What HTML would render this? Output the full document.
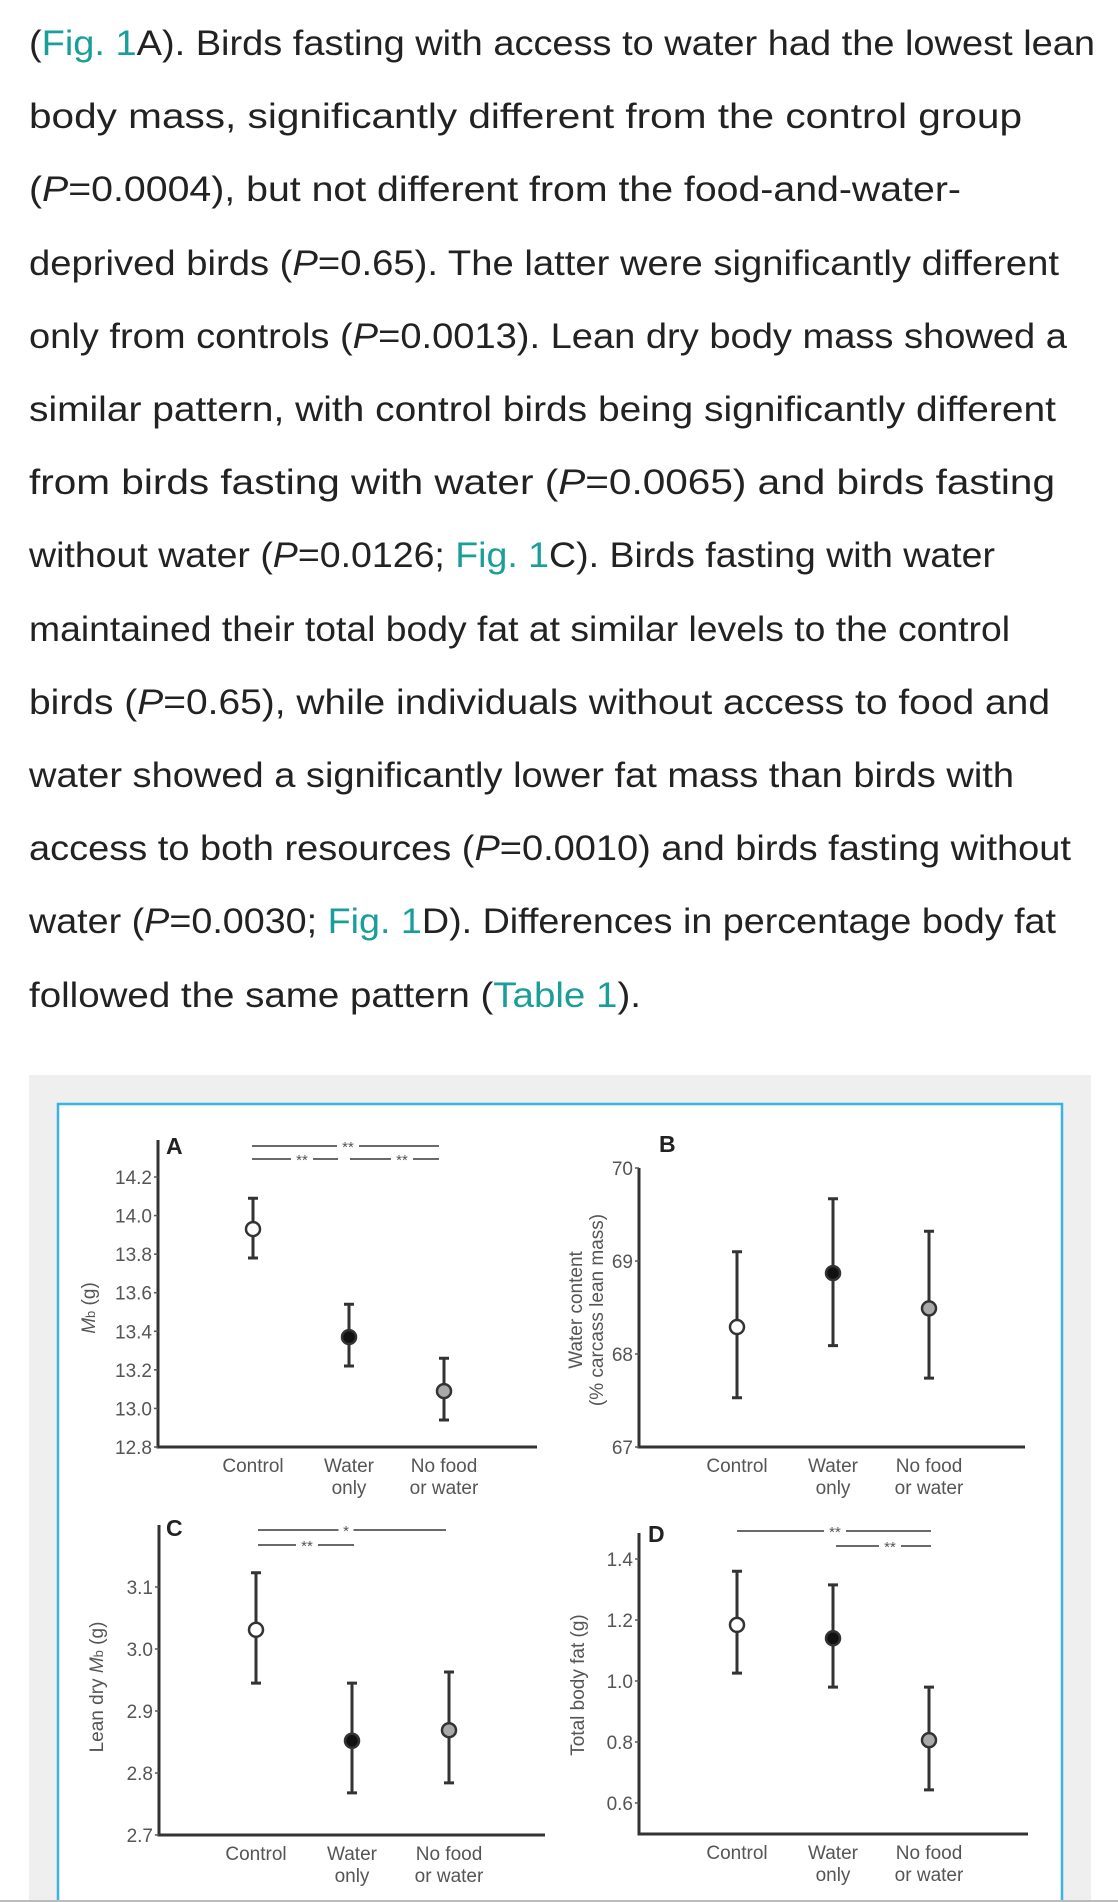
<!DOCTYPE html>
<html><head><meta charset="utf-8">
<style>
html,body{margin:0;padding:0;background:#fff;}
body{width:1118px;height:1902px;overflow:hidden;position:relative;}
svg{position:absolute;left:0;top:0;}
.t{font-family:"Liberation Sans",sans-serif;font-size:35px;fill:#222;}
.lk{fill:#1a9e9a;}
.ax{font-family:"Liberation Sans",sans-serif;font-size:19px;fill:#555;}
.pl{font-family:"Liberation Sans",sans-serif;font-size:23px;font-weight:bold;fill:#222;}
</style></head>
<body>
<svg id="page" width="1118" height="1902" viewBox="0 0 1118 1902">
<g>
<text class="t" x="29" y="55" textLength="1066" lengthAdjust="spacingAndGlyphs">(<tspan class="lk">Fig. 1</tspan>A). Birds fasting with access to water had the lowest lean</text>
<text class="t" x="29" y="128" textLength="993" lengthAdjust="spacingAndGlyphs">body mass, significantly different from the control group</text>
<text class="t" x="29" y="201" textLength="932" lengthAdjust="spacingAndGlyphs">(<tspan font-style="italic">P</tspan>=0.0004), but not different from the food-and-water-</text>
<text class="t" x="29" y="275" textLength="1030" lengthAdjust="spacingAndGlyphs">deprived birds (<tspan font-style="italic">P</tspan>=0.65). The latter were significantly different</text>
<text class="t" x="29" y="348" textLength="1038" lengthAdjust="spacingAndGlyphs">only from controls (<tspan font-style="italic">P</tspan>=0.0013). Lean dry body mass showed a</text>
<text class="t" x="29" y="421" textLength="1027" lengthAdjust="spacingAndGlyphs">similar pattern, with control birds being significantly different</text>
<text class="t" x="29" y="494" textLength="1026" lengthAdjust="spacingAndGlyphs">from birds fasting with water (<tspan font-style="italic">P</tspan>=0.0065) and birds fasting</text>
<text class="t" x="29" y="567" textLength="966" lengthAdjust="spacingAndGlyphs">without water (<tspan font-style="italic">P</tspan>=0.0126; <tspan class="lk">Fig. 1</tspan>C). Birds fasting with water</text>
<text class="t" x="29" y="641" textLength="981" lengthAdjust="spacingAndGlyphs">maintained their total body fat at similar levels to the control</text>
<text class="t" x="29" y="714" textLength="1021" lengthAdjust="spacingAndGlyphs">birds (<tspan font-style="italic">P</tspan>=0.65), while individuals without access to food and</text>
<text class="t" x="29" y="787" textLength="985" lengthAdjust="spacingAndGlyphs">water showed a significantly lower fat mass than birds with</text>
<text class="t" x="29" y="860" textLength="1042" lengthAdjust="spacingAndGlyphs">access to both resources (<tspan font-style="italic">P</tspan>=0.0010) and birds fasting without</text>
<text class="t" x="29" y="933" textLength="1027" lengthAdjust="spacingAndGlyphs">water (<tspan font-style="italic">P</tspan>=0.0030; <tspan class="lk">Fig. 1</tspan>D). Differences in percentage body fat</text>
<text class="t" x="29" y="1007" textLength="612" lengthAdjust="spacingAndGlyphs">followed the same pattern (<tspan class="lk">Table 1</tspan>).</text>
</g>
<rect x="29" y="1075" width="1062" height="840" fill="#efefef"/>
<rect x="58" y="1104" width="1004" height="810" fill="#fff" stroke="#3ab4de" stroke-width="2.5"/>
<line x1="0" y1="1901" x2="1118" y2="1901" stroke="#bbb" stroke-width="2"/>
<g id="charts"></g>
</svg>
<script>
// Panel A: body mass Mb (g)
const catsA = ["Control", "Water only", "No food or water"];
const meanA = [13.93, 13.37, 13.09];
const hiA = [14.09, 13.54, 13.26];
const loA = [13.78, 13.22, 12.94];
const ticksA = [12.8, 13.0, 13.2, 13.4, 13.6, 13.8, 14.0, 14.2];
const tickLabelsA = ["12.8", "13.0", "13.2", "13.4", "13.6", "13.8", "14.0", "14.2"];
// Panel B: water content
const meanB = [68.29, 68.87, 68.49];
const hiB = [69.10, 69.67, 69.32];
const loB = [67.53, 68.09, 67.74];
const ticksB = [67, 68, 69, 70];
const tickLabelsB = ["67", "68", "69", "70"];
// Panel C: lean dry Mb
const meanC = [3.031, 2.852, 2.869];
const hiC = [3.123, 2.945, 2.963];
const loC = [2.945, 2.768, 2.784];
const ticksC = [2.7, 2.8, 2.9, 3.0, 3.1];
const tickLabelsC = ["2.7", "2.8", "2.9", "3.0", "3.1"];
// Panel D: total body fat
const meanD = [1.184, 1.14, 0.806];
const hiD = [1.36, 1.315, 0.98];
const loD = [1.026, 0.98, 0.643];
const ticksD = [0.6, 0.8, 1.0, 1.2, 1.4];
const tickLabelsD = ["0.6", "0.8", "1.0", "1.2", "1.4"];

const NS = "http://www.w3.org/2000/svg";
const root = document.getElementById("charts");
const fills = ["#ffffff", "#111111", "#a9a9a9"];
const catLines = [["Control"], ["Water", "only"], ["No food", "or water"]];

function mk(tag, attrs, parent) {
  const e = document.createElementNS(NS, tag);
  for (const k in attrs) e.setAttribute(k, attrs[k]);
  parent.appendChild(e);
  return e;
}

function panel(cfg) {
  const g = mk("g", {}, root);
  
  
  const y = v => cfg.p0 + (v - cfg.v0) * (cfg.p1 - cfg.p0) / (cfg.v1 - cfg.v0);
  const x = i => cfg.cx[i];
  const axis = mk("path", {d: `M${cfg.ax} ${cfg.top} V${cfg.bottom} H${cfg.right}`, stroke: "#333", "stroke-width": 3, fill: "none"}, g);
  
  
  cfg.ticks.forEach((t, i) => {
    const ty = y(t);
    const tk = mk("line", {x1: cfg.ax - 4, x2: cfg.ax, y1: ty, y2: ty, stroke: "#555", "stroke-width": 1.5}, g);
    
    
    const lb = mk("text", {x: cfg.ax - 6, y: ty + 7, "text-anchor": "end", class: "ax"}, g);
    lb.textContent = cfg.labels[i];
    
    
  });
  catLines.forEach((lines, i) => {
    const tl = mk("text", {x: x(i), y: cfg.bottom + 25, "text-anchor": "middle", class: "ax"}, g);
    
    
    lines.forEach((s, j) => {
      const sp = mk("tspan", {x: x(i), dy: j === 0 ? 0 : 22}, tl);
      sp.textContent = s;
    });
  });
  const ttl = mk("text", {transform: `translate(${cfg.tx},${cfg.ty}) rotate(-90)`, "text-anchor": "middle", class: "ax"}, g);
  
  
  cfg.title.forEach((s, j) => {
    const sp = mk("tspan", {x: 0, dy: j === 0 ? (cfg.title.length > 1 ? -4 : 6) : 21}, ttl);
    sp.innerHTML = s;
  });
  const pl = mk("text", {x: cfg.lx, y: cfg.ly + 9, class: "pl"}, g);
  pl.textContent = cfg.letter;
  
  
  cfg.mean.forEach((m, i) => {
    const eb = mk("path", {d: `M${x(i)} ${y(cfg.lo[i])} V${y(cfg.hi[i])} M${x(i)-5} ${y(cfg.hi[i])} H${x(i)+5} M${x(i)-5} ${y(cfg.lo[i])} H${x(i)+5}`, stroke: "#333", "stroke-width": 3, fill: "none"}, g);
    
    
    const c = mk("circle", {cx: x(i), cy: y(m), r: 7, fill: fills[i], stroke: "#333", "stroke-width": 2.5}, g);
    
    
  });
  cfg.sig.forEach(s => {
    const w = s.star.length * 7 + 8;
    const ln = mk("path", {d: `M${s.x1} ${s.y} H${s.sx - w/2} M${s.sx + w/2} ${s.y} H${s.x2}`, stroke: "#555", "stroke-width": 1.8}, g);
    
    
    const st = mk("text", {x: s.sx, y: s.y + 6, "text-anchor": "middle", class: "ax", style: "font-size:15px"}, g);
    st.textContent = s.star;
    
    
  });
}

panel({name: "panel-a-body-mass", letter: "A", lx: 166, ly: 1145, ax: 158, top: 1140, bottom: 1447, right: 537,
  v0: 12.8, p0: 1447, v1: 14.2, p1: 1177, cx: [253, 349, 444], ticks: ticksA, labels: tickLabelsA,
  mean: meanA, hi: hiA, lo: loA, tx: 89, ty: 1308, title: ["<tspan font-style='italic'>M</tspan><tspan font-size='13'>b</tspan> (g)"],
  sig: [{x1: 252, x2: 439, y: 1146, sx: 348, star: "**"}, {x1: 252, x2: 338, y: 1159, sx: 302, star: "**"}, {x1: 350, x2: 439, y: 1159, sx: 402, star: "**"}]});
panel({name: "panel-b-water-content", letter: "B", lx: 659, ly: 1143, ax: 639, top: 1168, bottom: 1447, right: 1025,
  v0: 67, p0: 1447, v1: 70, p1: 1168, cx: [737, 833, 929], ticks: ticksB, labels: tickLabelsB,
  mean: meanB, hi: hiB, lo: loB, tx: 586, ty: 1310, title: ["Water content", "(% carcass lean mass)"], sig: []});
panel({name: "panel-c-lean-dry-mass", letter: "C", lx: 166, ly: 1527, ax: 159, top: 1525, bottom: 1835, right: 545,
  v0: 2.7, p0: 1835, v1: 3.1, p1: 1587, cx: [256, 352, 449], ticks: ticksC, labels: tickLabelsC,
  mean: meanC, hi: hiC, lo: loC, tx: 97, ty: 1687, title: ["Lean dry <tspan font-style='italic'>M</tspan><tspan font-size='13'>b</tspan> (g)"],
  sig: [{x1: 258, x2: 446, y: 1530, sx: 346, star: "*"}, {x1: 258, x2: 354, y: 1545, sx: 307, star: "**"}]});
panel({name: "panel-d-body-fat", letter: "D", lx: 648, ly: 1533, ax: 639, top: 1533, bottom: 1834, right: 1028,
  v0: 0.6, p0: 1803, v1: 1.4, p1: 1559, cx: [737, 833, 929], ticks: ticksD, labels: tickLabelsD,
  mean: meanD, hi: hiD, lo: loD, tx: 578, ty: 1685, title: ["Total body fat (g)"],
  sig: [{x1: 737, x2: 931, y: 1531, sx: 835, star: "**"}, {x1: 836, x2: 931, y: 1546, sx: 890, star: "**"}]});
</script>
</body></html>
